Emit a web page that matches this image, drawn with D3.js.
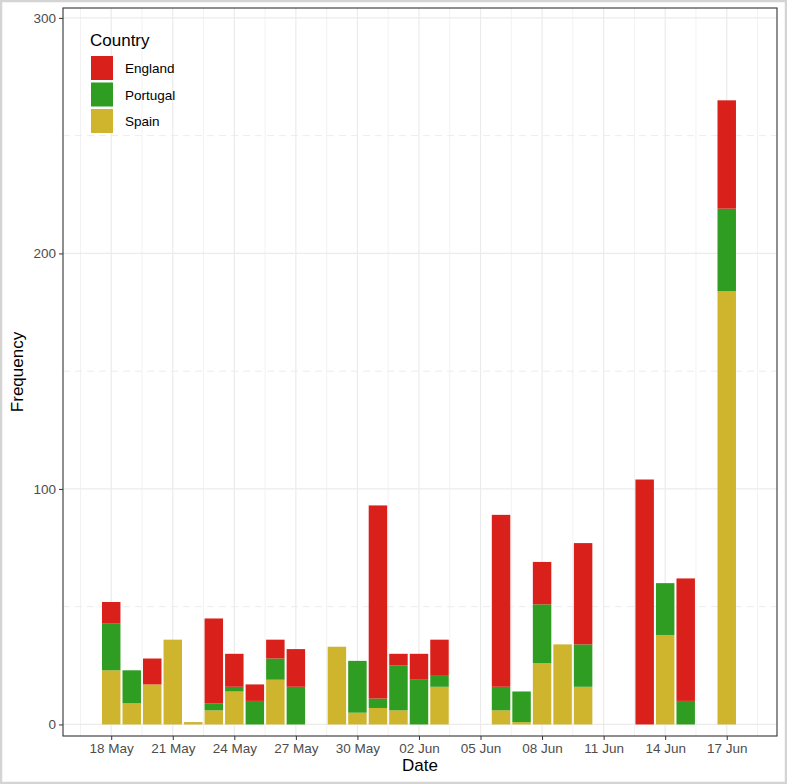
<!DOCTYPE html>
<html>
<head>
<meta charset="utf-8">
<script src="https://cdn.jsdelivr.net/npm/d3@7"></script>
<style>
  html, body { margin: 0; padding: 0; background: #fff; }
  svg { display: block; font-family: "Liberation Sans", Arial, sans-serif; }
</style>
</head>
<body>
<svg id="chart" width="787" height="784"></svg>
<script>
// ---- data ----
const dates = ["2021-05-18","2021-05-19","2021-05-20","2021-05-21","2021-05-22","2021-05-23","2021-05-24",
  "2021-05-25","2021-05-26","2021-05-27","2021-05-29","2021-05-30","2021-05-31","2021-06-01","2021-06-02",
  "2021-06-03","2021-06-06","2021-06-07","2021-06-08","2021-06-09","2021-06-10","2021-06-13","2021-06-14",
  "2021-06-15","2021-06-17"];
const spain    = [23, 9, 17, 36, 1, 6, 14, 0, 19, 0, 33, 5, 7, 6, 0, 16, 6, 1, 26, 34, 16, 0, 38, 0, 184];
const portugal = [20, 14, 0, 0, 0, 3, 2, 10, 9, 16, 0, 22, 4, 19, 19, 5, 10, 13, 25, 0, 18, 0, 22, 10, 35];
const england  = [9, 0, 11, 0, 0, 36, 14, 7, 8, 16, 0, 0, 82, 5, 11, 15, 73, 0, 18, 0, 43, 104, 0, 52, 46];
const countries = ["England", "Portugal", "Spain"];
const colors = ["#da201b", "#2f9c22", "#cfb42e"];
const xTicks = ["2021-05-18","2021-05-21","2021-05-24","2021-05-27","2021-05-30","2021-06-02",
  "2021-06-05","2021-06-08","2021-06-11","2021-06-14","2021-06-17"];
const yTicks = [0, 100, 200, 300];
const yMinor = [50, 150, 250];

// ---- layout ----
const svg = d3.select("#chart");
const W = 787, H = 784;
const L = 63, T = 8, R = 777, B = 736;
const parse = d3.utcParse("%Y-%m-%d");
const DAY = 864e5;
const d0 = parse("2021-05-18"), d1 = parse("2021-06-17");

const x = d3.scaleUtc()
  .domain([new Date(+d0 - 2.35 * DAY), new Date(+d1 + 2.45 * DAY)])
  .range([L, R]);
const y = d3.scaleLinear().domain([-4.9, 304.2]).range([B, T]);
const color = d3.scaleOrdinal().domain(countries).range(colors);

// outer frame
svg.append("rect").attr("x", 1).attr("y", 1).attr("width", W - 2).attr("height", H - 2)
  .attr("fill", "#fff").attr("stroke", "#d4d4d4").attr("stroke-width", 2.5);

// panel
const g = svg.append("g");
g.append("rect").attr("x", L).attr("y", T).attr("width", R - L).attr("height", B - T).attr("fill", "#fff");

// minor vertical grid (midpoints)
const tickDates = xTicks.map(parse);
const minorX = [];
for (let i = -1; i < tickDates.length; i++) {
  const base = i < 0 ? +tickDates[0] - 3 * DAY : +tickDates[i];
  const m = new Date(base + 1.5 * DAY);
  if (x(m) > L && x(m) < R) minorX.push(m);
}
g.selectAll(".vminor").data(minorX).join("line")
  .attr("x1", d => x(d)).attr("x2", d => x(d)).attr("y1", T).attr("y2", B)
  .attr("stroke", "#f2f2f2").attr("stroke-width", 1);
g.selectAll(".hminor").data(yMinor).join("line")
  .attr("x1", L).attr("x2", R).attr("y1", d => y(d)).attr("y2", d => y(d))
  .attr("stroke", "#ececec").attr("stroke-width", 1).attr("stroke-dasharray", "7,5");
g.selectAll(".vmajor").data(tickDates).join("line")
  .attr("x1", d => x(d)).attr("x2", d => x(d)).attr("y1", T).attr("y2", B)
  .attr("stroke", "#ebebeb").attr("stroke-width", 1.2);
g.selectAll(".hmajor").data(yTicks).join("line")
  .attr("x1", L).attr("x2", R).attr("y1", d => y(d)).attr("y2", d => y(d))
  .attr("stroke", "#ebebeb").attr("stroke-width", 1.2);

// stacked bars
const rows = dates.map((d, i) => ({ date: parse(d), Spain: spain[i], Portugal: portugal[i], England: england[i] }));
const stack = d3.stack().keys(["Spain", "Portugal", "England"]);
const series = stack(rows);
const bw = x(new Date(+d0 + 0.9 * DAY)) - x(d0);
series.forEach(s => {
  g.append("g").selectAll("rect").data(s.filter(d => d[1] - d[0] > 0)).join("rect")
    .attr("x", d => x(d.data.date) - bw / 2)
    .attr("width", bw)
    .attr("y", d => y(d[1]))
    .attr("height", d => y(d[0]) - y(d[1]))
    .attr("fill", color(s.key));
});

// panel border
g.append("rect").attr("x", L).attr("y", T).attr("width", R - L).attr("height", B - T)
  .attr("fill", "none").attr("stroke", "#333").attr("stroke-width", 1.1);

// axes
const xAxis = d3.axisBottom(x).tickValues(tickDates).tickFormat(d3.utcFormat("%d %b")).tickSize(4).tickPadding(3);
const xa = svg.append("g").attr("transform", `translate(0,${B})`).call(xAxis);
const yAxis = d3.axisLeft(y).tickValues(yTicks).tickSize(4).tickPadding(3);
const ya = svg.append("g").attr("transform", `translate(${L},0)`).call(yAxis);
[xa, ya].forEach(a => {
  a.select(".domain").remove();
  a.selectAll(".tick line").attr("stroke", "#333");
  a.selectAll(".tick text").attr("fill", "#4d4d4d").style("font-size", "13.5px")
    .style("font-family", "'Liberation Sans', Arial, sans-serif");
});

// axis titles
svg.append("text").attr("x", (L + R) / 2).attr("y", 771).attr("text-anchor", "middle")
  .style("font-size", "17px").attr("fill", "#000").text("Date");
svg.append("text").attr("transform", `translate(23,${(T + B) / 2}) rotate(-90)`).attr("text-anchor", "middle")
  .style("font-size", "17px").attr("fill", "#000").text("Frequency");

// legend
const lg = svg.append("g").attr("transform", "translate(90,0)");
lg.append("text").attr("x", 0).attr("y", 46).style("font-size", "17px").attr("fill", "#000").text("Country");
countries.forEach((c, i) => {
  lg.append("rect").attr("x", 1).attr("y", 56 + i * 26.5).attr("width", 22).attr("height", 24)
    .attr("fill", color(c));
  lg.append("text").attr("x", 35).attr("y", 73 + i * 26.5).style("font-size", "13.5px")
    .attr("fill", "#000").text(c);
});
</script>
</body>
</html>
